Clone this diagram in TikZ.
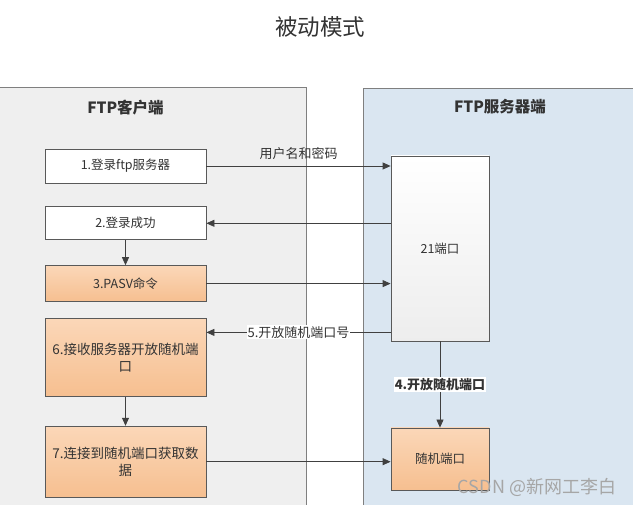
\documentclass[tikz,border=0pt]{standalone}
\usepackage{fontspec}
\setmainfont{Noto Sans CJK SC}
\usepackage{tikz}
\usetikzlibrary{arrows.meta,positioning}
\definecolor{linegray}{HTML}{404040}
\definecolor{framegray}{HTML}{7F7F7F}
\definecolor{clientgray}{HTML}{EFEFEF}
\definecolor{serverblue}{HTML}{DAE6F1}
\definecolor{orangetop}{HTML}{FBD7B8}
\definecolor{orangebot}{HTML}{F6BF90}

\begin{document}
\begin{tikzpicture}[
  x=1pt,y=1pt,
  every node/.style={font=\fontsize{12.5}{15}\selectfont,align=center,text=black!80},
  panel/.style={draw=framegray,line width=0.8pt},
  whitebox/.style={draw=black!65,line width=0.8pt,fill=white,
             minimum width=161pt,minimum height=34pt,inner sep=2pt},
  orangebox/.style={draw=black!65,line width=0.8pt,top color=orangetop,bottom color=orangebot,
             minimum width=161pt,inner sep=2pt},
  arr/.style={-{Triangle[length=8pt,width=7pt]},line width=0.8pt,draw=linegray},
  lbl/.style={fill=white,inner sep=1pt,font=\fontsize{13}{15}\selectfont}
]
\useasboundingbox (0,0) rectangle (633,-505);
\node[font=\fontsize{22.5}{26}\selectfont] (title) at (320,-27) {被动模式};
% the two sides
\draw[panel,fill=clientgray] (-2,-87) rectangle (306,-512);
\draw[panel,fill=serverblue] (363,-88) rectangle (640,-512);
\node[font=\fontsize{15.5}{18}\selectfont\bfseries] (client) at (125.5,-108) {FTP客户端};
\node[font=\fontsize{15.5}{18}\selectfont\bfseries] (server) at (500,-107) {FTP服务器端};
% client steps
\node[whitebox] (login) at (125.5,-166) {1.登录ftp服务器};
\node[whitebox,below=23pt of login,minimum height=33pt] (loginok) {2.登录成功};
\node[orangebox,below=25pt of loginok,minimum height=36pt] (pasv) {3.PASV命令};
\node[orangebox,below=16pt of pasv,minimum height=78pt,
      font=\fontsize{13.5}{17}\selectfont] (recv) {6.接收服务器开放随机端\\口};
\node[orangebox,below=29pt of recv,minimum height=71pt,
      font=\fontsize{13.5}{17}\selectfont] (fetch) {7.连接到随机端口获取数\\据};
% server ports
\node[draw=black!65,line width=0.8pt,top color=white,bottom color=black!7,
      minimum width=98pt,minimum height=185pt] (port) at (440,-248.5) {21端口};
\node[orangebox,minimum width=98pt,minimum height=62pt] (randport) at (440,-459) {随机端口};
\draw[arr] (login.east) -- (login.east -| port.west)
  node[midway,above=5pt,lbl,fill=none] {用户名和密码};
\draw[arr] (port.west |- loginok.east) -- (loginok.east);
\draw[arr] (loginok) -- (pasv);
\draw[arr] (pasv.east) -- (pasv.east -| port.west);
\draw[arr] ([yshift=9pt]port.south west) -- ([yshift=9pt]port.south west -| recv.east)
  node[midway,lbl] {5.开放随机端口号};
\draw[arr] (port) -- (randport) node[midway,lbl,font=\fontsize{13}{15}\selectfont\bfseries] {4.开放随机端口};
\draw[arr] (recv) -- (fetch);
\draw[arr] (fetch.east) -- (fetch.east -| randport.west);
\node[text=black!35,font=\fontsize{18}{20}\selectfont] (mark) at (537,-487) {CSDN @新网工李白};
\end{tikzpicture}
\end{document}
